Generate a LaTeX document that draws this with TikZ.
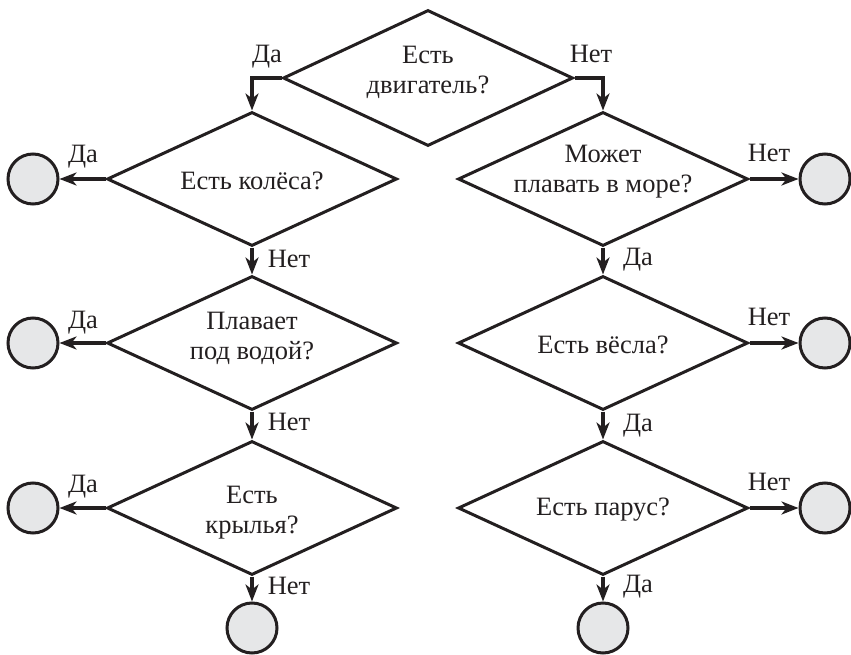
\documentclass[tikz,border=0pt]{standalone}
\usepackage{fontspec}
\setmainfont{Liberation Serif}
\usetikzlibrary{shapes.geometric,arrows.meta}
\definecolor{ink}{HTML}{231F20}
\definecolor{leaf}{HTML}{E6E7E8}
\begin{document}
\begin{tikzpicture}[x=1pt,y=-1pt,
  every node/.style={text=ink, font=\fontsize{26.5}{30}\selectfont},
  dec/.style={diamond, draw=ink, line width=3pt, minimum width=290pt, minimum height=134pt, inner sep=0pt},
  qtext/.style={align=center, inner sep=0pt},
  leafnode/.style={circle, draw=ink, fill=leaf, line width=3pt, minimum size=50pt, inner sep=0pt},
  conn/.style={draw=ink, line width=3.2pt, -{Stealth[length=17pt,width=13pt,inset=5pt]}},
  lbl/.style={inner sep=0pt, anchor=base}
]
\useasboundingbox (0,0) rectangle (851,655);
% decisions
\node[dec, minimum height=136pt] (T) at (428,78) {};
\node[dec] (L1) at (252,179) {};
\node[dec] (L2) at (252,343) {};
\node[dec] (L3) at (252,508) {};
\node[dec] (R1) at (603,179) {};
\node[dec] (R2) at (603,343) {};
\node[dec] (R3) at (603,508) {};
% question texts
\node[qtext] (tT) at (428,72) {Есть\\двигатель?};
\node[qtext] (tL1) at (252,181) {Есть колёса?};
\node[qtext] (tL2) at (252,338) {Плавает\\под водой?};
\node[qtext] (tL3) at (252,513) {Есть\\крылья?};
\node[qtext] (tR1) at (603,172) {Может\\плавать в море?};
\node[qtext] (tR2) at (603,345) {Есть вёсла?};
\node[qtext] (tR3) at (603,510) {Есть парус?};
% leaves
\node[leafnode] (CL1) at (33,179) {};
\node[leafnode] (CL2) at (33,343) {};
\node[leafnode] (CL3) at (33,508) {};
\node[leafnode] (CLB) at (252,628) {};
\node[leafnode] (CR1) at (825,179) {};
\node[leafnode] (CR2) at (825,343) {};
\node[leafnode] (CR3) at (825,508) {};
\node[leafnode] (CRB) at (603,628) {};
% connectors
\draw[conn] (T.west) -| (L1.north);
\draw[conn] (T.east) -| (R1.north);
\draw[conn] (L1.west) -- (CL1);
\draw[conn] (L2.west) -- (CL2);
\draw[conn] (L3.west) -- (CL3);
\draw[conn] (L1.south) -- (L2.north);
\draw[conn] (L2.south) -- (L3.north);
\draw[conn] (L3.south) -- (CLB);
\draw[conn] (R1.east) -- (CR1);
\draw[conn] (R2.east) -- (CR2);
\draw[conn] (R3.east) -- (CR3);
\draw[conn] (R1.south) -- (R2.north);
\draw[conn] (R2.south) -- (R3.north);
\draw[conn] (R3.south) -- (CRB);
% labels
\node[lbl] (lt1) at (267,63) {Да};
\node[lbl] (lt2) at (591,63) {Нет};
\node[lbl] (la1) at (83,163) {Да};
\node[lbl] (la2) at (83,328) {Да};
\node[lbl] (la3) at (83,492) {Да};
\node[lbl] (lb1) at (289,267) {Нет};
\node[lbl] (lb2) at (289,430) {Нет};
\node[lbl] (lb3) at (289,594) {Нет};
\node[lbl] (lc1) at (769,162) {Нет};
\node[lbl] (lc2) at (769,325) {Нет};
\node[lbl] (lc3) at (769,490) {Нет};
\node[lbl] (ld1) at (638,265) {Да};
\node[lbl] (ld2) at (638,431) {Да};
\node[lbl] (ld3) at (638,592) {Да};
\end{tikzpicture}
\end{document}
